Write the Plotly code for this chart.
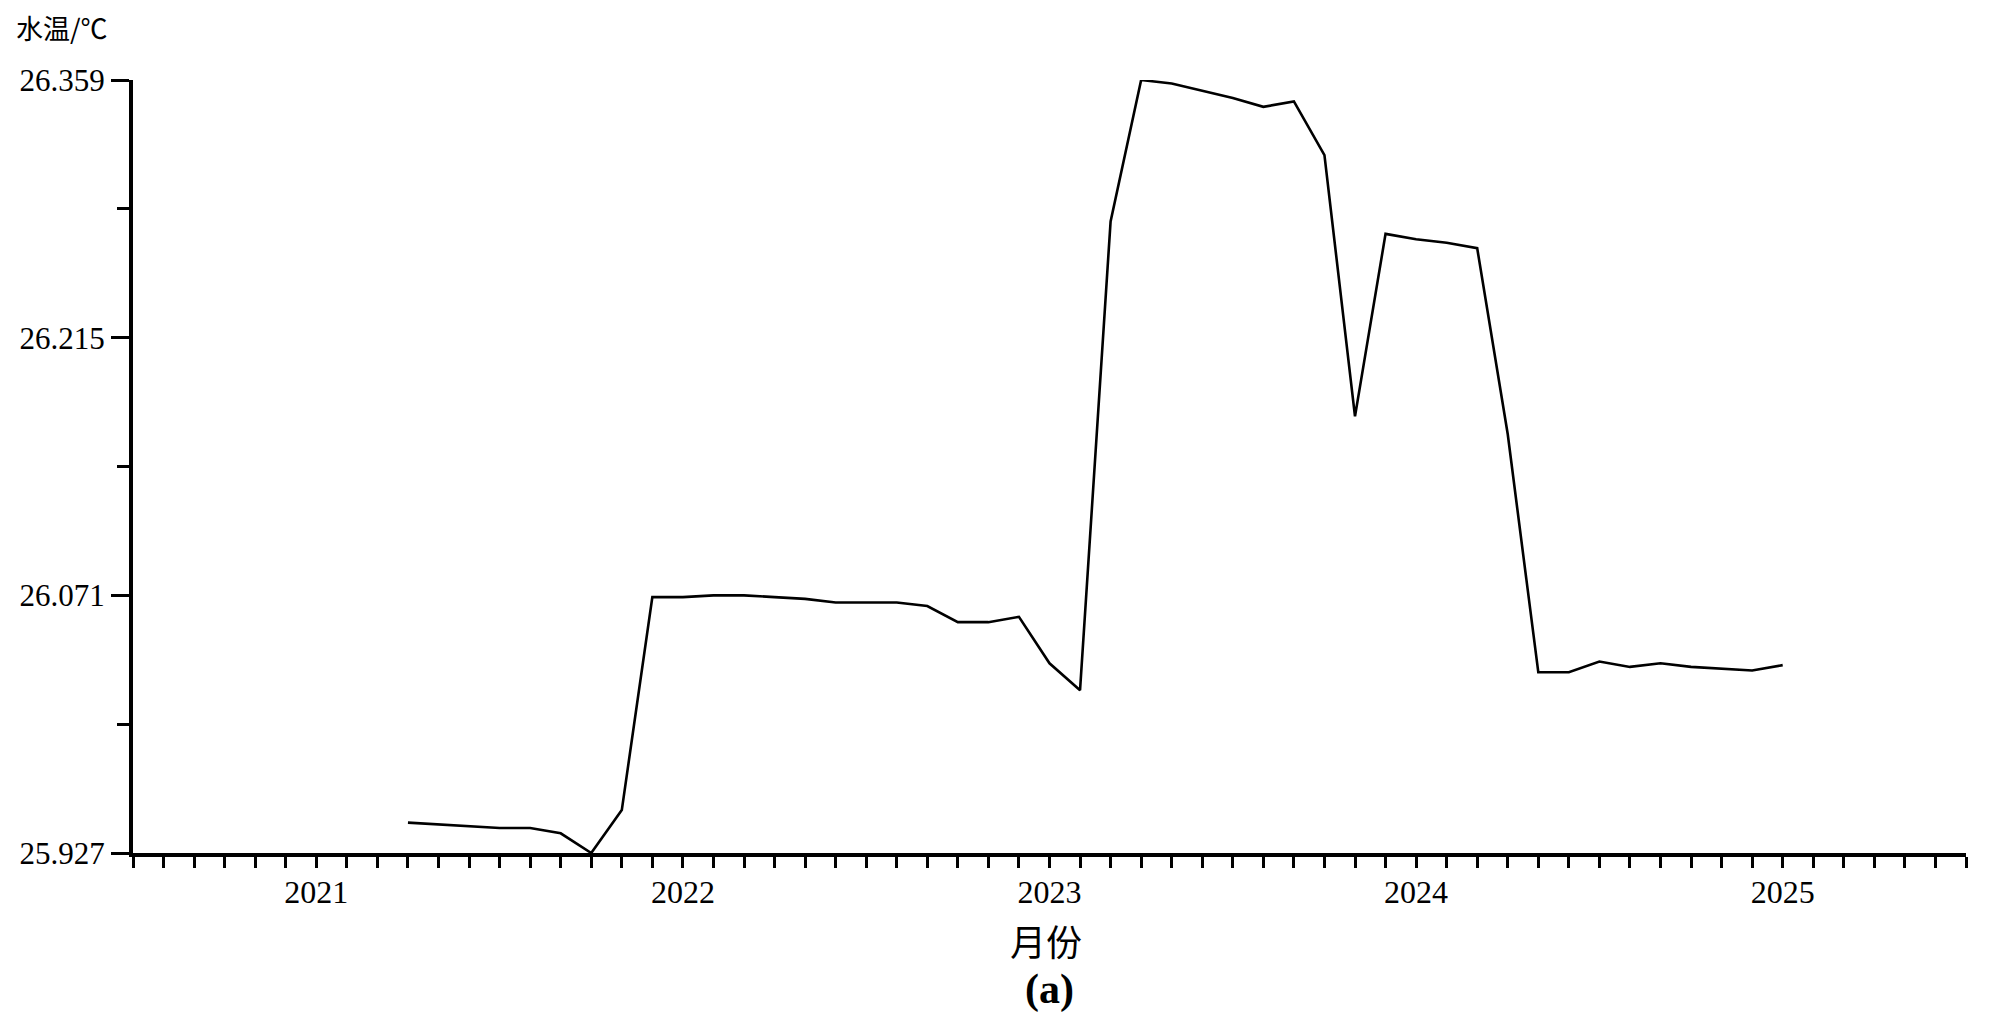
import plotly.graph_objects as go

# ---- data ----
months = [
    "2021-04", "2021-05", "2021-06", "2021-07", "2021-08", "2021-09", "2021-10",
    "2021-11", "2021-12", "2022-01", "2022-02", "2022-03", "2022-04", "2022-05",
    "2022-06", "2022-07", "2022-08", "2022-09", "2022-10", "2022-11", "2022-12",
    "2023-01", "2023-02", "2023-03", "2023-04", "2023-05", "2023-06", "2023-07",
    "2023-08", "2023-09", "2023-10", "2023-11", "2023-12", "2024-01", "2024-02",
    "2024-03", "2024-04", "2024-05", "2024-06", "2024-07", "2024-08", "2024-09",
    "2024-10", "2024-11", "2024-12", "2025-01",
]
water_temp = [
    25.944, 25.943, 25.942, 25.941, 25.941, 25.938, 25.927,
    25.951, 26.070, 26.070, 26.071, 26.071, 26.070, 26.069,
    26.067, 26.067, 26.067, 26.065, 26.056, 26.056, 26.059,
    26.033, 26.018, 26.280, 26.359, 26.357, 26.353, 26.349,
    26.344, 26.347, 26.317, 26.171, 26.273, 26.270, 26.268,
    26.265, 26.161, 26.028, 26.028, 26.034, 26.031, 26.033,
    26.031, 26.030, 26.029, 26.032,
]
y_ticks = [25.927, 26.071, 26.215, 26.359]
y_tick_labels = ["25.927", "26.071", "26.215", "26.359"]
year_ticks = [2021, 2022, 2023, 2024, 2025]
year_labels = ["2021", "2022", "2023", "2024", "2025"]
half_year_ticks = [2020.5, 2021.5, 2022.5, 2023.5, 2024.5, 2025.5]

x_vals = [int(m[:4]) + (int(m[5:]) - 1) / 12 for m in months]
x_range = [half_year_ticks[0], half_year_ticks[-1]]

serif = "Liberation Serif"
cjk = "Noto Sans CJK SC"

fig = go.Figure()
fig.add_trace(go.Scatter(
    x=x_vals, y=water_temp, mode="lines",
    line=dict(color="black", width=2.6),
    showlegend=False, hoverinfo="skip",
))

fig.update_layout(
    width=1984, height=1004,
    margin=dict(l=117, r=26, t=72, b=159),
    paper_bgcolor="white", plot_bgcolor="white",
    xaxis=dict(
        range=x_range, showgrid=False, zeroline=False,
        showline=True, linecolor="black", linewidth=4,
        tickmode="array", tickvals=year_ticks, ticktext=year_labels,
        ticks="outside", ticklen=11, tickwidth=3, tickcolor="black",
        ticklabelstandoff=-3,
        tickfont=dict(family=serif, size=32, color="black"),
        minor=dict(tick0=2020.5, dtick=1 / 12, ticks="outside",
                   ticklen=11, tickwidth=3, tickcolor="black", showgrid=False),
    ),
    xaxis2=dict(
        range=x_range, overlaying="x", anchor="y", side="bottom",
        showgrid=False, zeroline=False, showline=False,
        tickmode="array", tickvals=half_year_ticks, showticklabels=False,
        ticks="outside", ticklen=19, tickwidth=3, tickcolor="black",
    ),
    yaxis=dict(
        range=[y_ticks[0], y_ticks[-1]], showgrid=False, zeroline=False,
        showline=True, linecolor="black", linewidth=4,
        tickmode="array", tickvals=y_ticks, ticktext=y_tick_labels,
        ticks="outside", ticklen=18, tickwidth=3, tickcolor="black",
        tickfont=dict(family=serif, size=31, color="black"),
        minor=dict(tick0=y_ticks[0], dtick=(y_ticks[1] - y_ticks[0]) / 2,
                   ticks="outside", ticklen=12, tickwidth=3,
                   tickcolor="black", showgrid=False),
    ),
    annotations=[
        dict(text="水温/℃", xref="paper", yref="paper", x=0, y=1,
             xanchor="left", yanchor="middle", xshift=-119, yshift=53,
             showarrow=False, font=dict(family=cjk, size=27, color="black")),
        dict(text="月份", xref="paper", yref="paper", x=0.5, y=0,
             xanchor="center", yanchor="middle", xshift=-4, yshift=-87,
             showarrow=False, font=dict(family=cjk, size=36, color="black")),
        dict(text="<b>(a)</b>", xref="paper", yref="paper", x=0.5, y=0,
             xanchor="center", yanchor="middle", yshift=-136,
             showarrow=False, font=dict(family=serif, size=42, color="black")),
    ],
)

fig.write_html("out.html")
